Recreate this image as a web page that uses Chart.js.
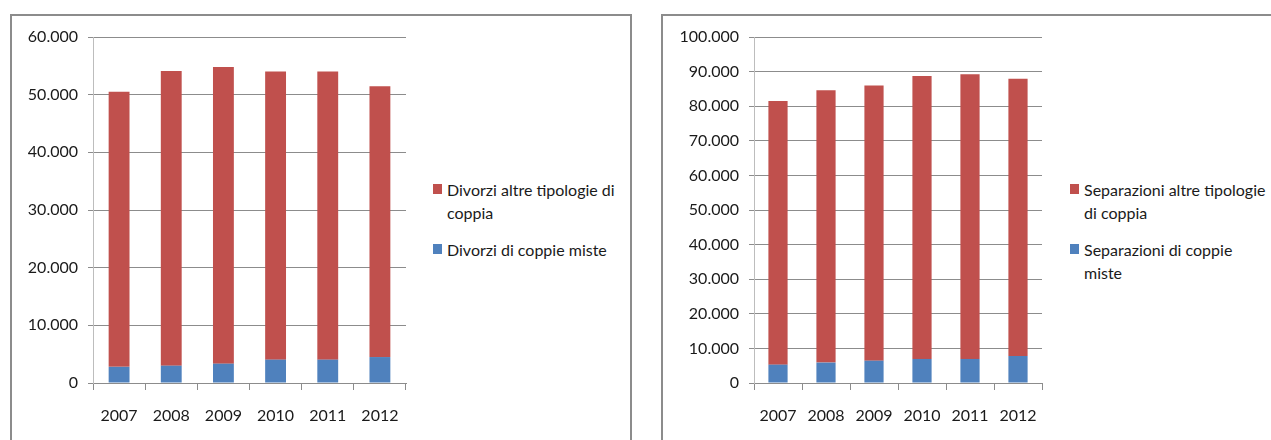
<!DOCTYPE html>
<html>
<head>
<meta charset="utf-8">
<script src="https://cdn.jsdelivr.net/npm/chart.js@4/dist/chart.umd.min.js"></script>
<style>
  html, body { margin: 0; padding: 0; background: #fff; }
  body { width: 1271px; height: 440px; position: relative; overflow: hidden; font-family: Lato, "Open Sans", sans-serif; }
  .frame { position: absolute; border: 2px solid #8c8c8c; box-sizing: border-box; }
  canvas { position: absolute; }
  .leg { position: absolute; font-family: Lato, sans-serif; font-size: 16px; line-height: 23px; color: #1a1a1a; white-space: nowrap; }
  .sw { position: absolute; width: 9px; height: 10px; }
</style>
</head>
<body>
<div class="frame" style="left:10px; top:14px; width:622px; height:460px;"></div>
<div class="frame" style="left:661px; top:14px; width:640px; height:460px;"></div>
<canvas id="c1" width="420" height="440" style="left:0px; top:0px;"></canvas>
<canvas id="c2" width="420" height="440" style="left:640px; top:0px;"></canvas>
<div id="leg1"></div>
<div id="leg2"></div>
<script>
// ---- data ----
const years = ['2007', '2008', '2009', '2010', '2011', '2012'];

const divorziMisteName = ['Divorzi di coppie miste'];
const divorziAltreName = ['Divorzi altre tipologie di', 'coppia'];
const divorziMiste = [2800, 3000, 3350, 4050, 4050, 4500];
const divorziAltre = [47700, 51100, 51450, 49950, 49950, 46950];

const separMisteName = ['Separazioni di coppie', 'miste'];
const separAltreName = ['Separazioni altre tipologie', 'di coppia'];
const separMiste = [5300, 5900, 6450, 6950, 6950, 7800];
const separAltre = [76200, 78700, 79550, 81750, 82250, 80100];

const yMax1 = 60000, yStep1 = 10000;
const yMax2 = 100000, yStep2 = 10000;

const RED = '#C0504D';
const BLUE = '#4F81BD';

function fmt(v) {
  return String(Math.round(v)).replace(/\B(?=(\d{3})+(?!\d))/g, '.');
}

function makeChart(id, misteName, miste, altreName, altre, yMax, yStep, yWidth, padRight) {
  const font = { family: 'Lato, "Open Sans", sans-serif', size: 16 };
  return new Chart(document.getElementById(id), {
    type: 'bar',
    data: {
      labels: years,
      datasets: [
        { label: misteName.join(' '), data: miste, backgroundColor: BLUE, borderWidth: 0 },
        { label: altreName.join(' '), data: altre, backgroundColor: RED, borderWidth: 0 }
      ]
    },
    options: {
      responsive: false,
      animation: false,
      devicePixelRatio: 1,
      layout: { padding: { top: 37, right: padRight, left: 0, bottom: 0 } },
      plugins: { legend: { display: false }, tooltip: { enabled: false } },
      datasets: { bar: { barPercentage: 0.4, categoryPercentage: 1.0 } },
      scales: {
        x: {
          stacked: true,
          afterFit: s => { s.height = 57; },
          grid: { drawOnChartArea: false, drawTicks: true, tickLength: 7, color: '#8c8c8c', lineWidth: 1 },
          border: { color: '#8c8c8c', width: 1 },
          ticks: { font: font, color: '#1a1a1a', padding: 16, maxRotation: 0 }
        },
        y: {
          stacked: true,
          min: 0, max: yMax,
          afterFit: s => { s.width = yWidth; },
          grid: { color: '#8c8c8c', lineWidth: 1, drawTicks: true, tickLength: 5 },
          border: { color: '#bdbdbd', width: 1 },
          ticks: { stepSize: yStep, font: font, color: '#1a1a1a', padding: 10, callback: v => fmt(v) }
        }
      }
    }
  });
}

makeChart('c1', divorziMisteName, divorziMiste, divorziAltreName, divorziAltre, yMax1, yStep1, 93, 14);
makeChart('c2', separMisteName, separMiste, separAltreName, separAltre, yMax2, yStep2, 114, 18);

function makeLegend(id, x, entries) {
  const root = document.getElementById(id);
  entries.forEach(e => {
    const sw = document.createElement('div');
    sw.className = 'sw';
    sw.style.left = x + 'px';
    sw.style.top = (e.top + 6) + 'px';
    sw.style.background = e.color;
    root.appendChild(sw);
    const t = document.createElement('div');
    t.className = 'leg';
    t.style.left = (x + 14) + 'px';
    t.style.top = e.top + 'px';
    t.innerHTML = e.lines.map(l => l.replace(/&/g, '&amp;').replace(/</g, '&lt;')).join('<br>');
    root.appendChild(t);
  });
}
makeLegend('leg1', 433, [
  { lines: divorziAltreName, color: RED, top: 178 },
  { lines: divorziMisteName, color: BLUE, top: 238 }
]);
makeLegend('leg2', 1070, [
  { lines: separAltreName, color: RED, top: 178 },
  { lines: separMisteName, color: BLUE, top: 238 }
]);
</script>
</body>
</html>
